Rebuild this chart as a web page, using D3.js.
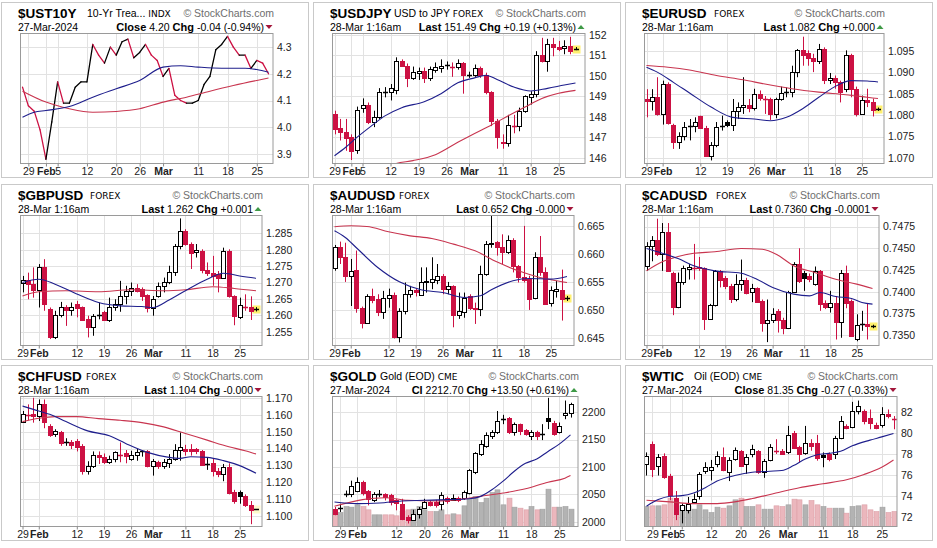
<!DOCTYPE html>
<html>
<head>
<meta charset="utf-8">
<script src="https://cdnjs.cloudflare.com/ajax/libs/d3/7.8.5/d3.min.js"></script>
<style>
  body { margin: 0; background: #fff; }
  svg { display: block; font-family: "Liberation Sans", Arial, sans-serif; }
</style>
</head>
<body>
<svg id="chart" width="937" height="548"></svg>
<script>
// ---- dates / ticks ----
const forexDates = ["Jan 29","Jan 30","Jan 31","Feb 1","Feb 2","Feb 5","Feb 6","Feb 7","Feb 8","Feb 9","Feb 12","Feb 13","Feb 14","Feb 15","Feb 16","Feb 19","Feb 20","Feb 21","Feb 22","Feb 23","Feb 26","Feb 27","Feb 28","Feb 29","Mar 1","Mar 4","Mar 5","Mar 6","Mar 7","Mar 8","Mar 11","Mar 12","Mar 13","Mar 14","Mar 15","Mar 18","Mar 19","Mar 20","Mar 21","Mar 22","Mar 25","Mar 26","Mar 27","Mar 28"];
const eodDates = ["Jan 26","Jan 29","Jan 30","Jan 31","Feb 1","Feb 2","Feb 5","Feb 6","Feb 7","Feb 8","Feb 9","Feb 12","Feb 13","Feb 14","Feb 15","Feb 16","Feb 20","Feb 21","Feb 22","Feb 23","Feb 26","Feb 27","Feb 28","Feb 29","Mar 1","Mar 4","Mar 5","Mar 6","Mar 7","Mar 8","Mar 11","Mar 12","Mar 13","Mar 14","Mar 15","Mar 18","Mar 19","Mar 20","Mar 21","Mar 22","Mar 25","Mar 26","Mar 27"];

const forexTicks = [["Jan 29","29"],["Feb 1","Feb"],["Feb 12","12"],["Feb 19","19"],["Feb 26","26"],["Mar 1","Mar"],["Mar 11","11"],["Mar 18","18"],["Mar 25","25"]];
const jpyTicks = [["Jan 29","29"],["Feb 1","Feb"],["Feb 5","5"],["Feb 12","12"],["Feb 19","19"],["Feb 26","26"],["Mar 1","Mar"],["Mar 11","11"],["Mar 18","18"],["Mar 25","25"]];
const eodTicks = [["Jan 29","29"],["Feb 1","Feb"],["Feb 5","5"],["Feb 12","12"],["Feb 20","20"],["Feb 26","26"],["Mar 1","Mar"],["Mar 11","11"],["Mar 18","18"],["Mar 25","25"]];
const goldTicks = [["Jan 29","29"],["Feb 1","Feb"],["Feb 12","12"],["Feb 20","20"],["Feb 26","26"],["Mar 1","Mar"],["Mar 11","11"],["Mar 18","18"],["Mar 25","25"]];

// ---- price data: [open, high, low, close] ----
const ust10yClose = [4.15,4.08,4.06,3.99,3.88,4.02,4.17,4.09,4.09,4.15,4.17,4.17,4.31,4.27,4.24,4.30,4.27,4.32,4.33,4.26,4.28,4.31,4.27,4.25,4.19,4.22,4.12,4.10,4.09,4.09,4.10,4.16,4.19,4.29,4.31,4.34,4.30,4.27,4.27,4.22,4.25,4.24,4.20];

const usdjpy = [
 [148.15,148.3,147.15,147.4],[147.45,147.9,146.85,147.25],[147.25,147.9,146.35,146.95],[147.0,147.15,145.9,146.35],
 [146.4,148.5,146.2,148.35],[148.45,148.9,148.2,148.6],[148.6,148.7,147.65,147.75],[147.75,148.3,147.5,148.0],
 [148.0,149.4,147.9,149.2],[149.25,149.45,148.95,149.2],[149.2,149.6,148.8,149.4],[149.3,150.9,149.1,150.7],
 [150.7,150.8,150.45,150.5],[150.5,150.6,149.45,149.9],[149.9,150.45,149.8,150.2],[150.15,150.4,149.8,150.25],
 [150.25,150.4,149.65,149.9],[149.9,150.45,149.75,150.35],[150.3,150.65,150.15,150.42],[150.4,150.8,150.15,150.5],
 [150.5,150.7,150.3,150.52],[150.52,150.65,149.95,150.45],[150.45,150.8,150.3,150.6],[150.6,150.67,149.13,150.03],
 [150.03,150.2,149.9,150.05],[150.05,150.55,149.95,150.4],[150.4,150.45,149.9,150.03],[150.03,150.15,149.1,149.2],
 [149.2,149.25,147.55,147.8],[147.8,147.9,146.45,147.0],[146.8,147.15,146.45,146.72],[146.75,148.1,146.55,147.6],
 [147.6,148.1,147.2,147.55],[147.55,148.45,147.3,148.3],[148.3,149.05,148.2,149.0],[148.95,149.25,148.6,149.1],
 [149.1,151.2,148.95,151.0],[151.0,151.85,150.65,150.7],[150.7,151.8,150.2,151.55],[151.55,151.85,150.95,151.4],
 [151.4,151.7,151.2,151.3],[151.33,151.73,151.05,151.45],[151.45,151.9,151.05,151.22],[151.3,151.4,151.25,151.32]
];

const eurusd = [
 [1.0839,1.0861,1.0795,1.0834],[1.0834,1.0861,1.0811,1.0843],[1.0843,1.0889,1.0799,1.0803],[1.0803,1.0881,1.0778,1.0873],
 [1.0873,1.0877,1.0778,1.0781],[1.0778,1.0780,1.0721,1.0737],[1.0737,1.0760,1.0721,1.0752],[1.0752,1.0784,1.0741,1.0773],
 [1.0773,1.0791,1.0741,1.0775],[1.0775,1.0795,1.0760,1.0784],[1.0797,1.0799,1.0768,1.0770],[1.0770,1.0775,1.0703,1.0705],
 [1.0705,1.0737,1.0694,1.0731],[1.0731,1.0784,1.0725,1.0772],[1.0772,1.0799,1.0764,1.0775],[1.0784,1.0788,1.0772,1.0776],
 [1.0776,1.0838,1.0763,1.0809],[1.0809,1.0830,1.0791,1.0820],[1.0820,1.0889,1.0803,1.0825],[1.0825,1.0838,1.0807,1.0817],
 [1.0817,1.0862,1.0811,1.0850],[1.0850,1.0858,1.0834,1.0841],[1.0841,1.0845,1.0803,1.0838],[1.0838,1.0841,1.0789,1.0802],
 [1.0802,1.0841,1.0793,1.0838],[1.0838,1.0867,1.0834,1.0852],[1.0852,1.0865,1.0842,1.0855],[1.0855,1.0916,1.0842,1.0901],
 [1.0901,1.0955,1.0889,1.0952],[1.0952,1.0984,1.0916,1.0940],[1.0945,1.0952,1.0916,1.0934],[1.0934,1.0944,1.0901,1.0927],
 [1.0927,1.0967,1.0920,1.0955],[1.0955,1.0959,1.0873,1.0883],[1.0883,1.0899,1.0873,1.0887],[1.0887,1.0893,1.0862,1.0877],
 [1.0877,1.0881,1.0830,1.0854],[1.0862,1.0952,1.0854,1.0940],[1.0940,1.0944,1.0842,1.0862],[1.0862,1.0867,1.0797,1.0803],
 [1.0803,1.0846,1.0801,1.0836],[1.0836,1.0862,1.0819,1.0830],[1.0830,1.0839,1.0797,1.0812],[1.0812,1.0818,1.0810,1.0815]
];

const gbpusd = [
 [1.2700,1.2720,1.2670,1.2708],[1.2708,1.2730,1.2649,1.2695],[1.2695,1.2746,1.2654,1.2678],[1.2678,1.2756,1.2624,1.2746],
 [1.2746,1.2771,1.2614,1.2634],[1.2619,1.2624,1.2528,1.2533],[1.2533,1.2614,1.2528,1.2601],[1.2601,1.2641,1.2594,1.2624],
 [1.2624,1.2631,1.2568,1.2617],[1.2617,1.2639,1.2599,1.2627],[1.2634,1.2644,1.2594,1.2621],[1.2624,1.2627,1.2583,1.2586],
 [1.2588,1.2599,1.2533,1.2565],[1.2565,1.2604,1.2538,1.2599],[1.2597,1.2639,1.2588,1.2601],[1.2609,1.2614,1.2583,1.2586],
 [1.2586,1.2654,1.2580,1.2624],[1.2624,1.2649,1.2614,1.2634],[1.2634,1.2705,1.2611,1.2659],[1.2659,1.2690,1.2634,1.2675],
 [1.2675,1.2700,1.2659,1.2682],[1.2682,1.2695,1.2670,1.2675],[1.2680,1.2685,1.2644,1.2659],[1.2661,1.2664,1.2609,1.2621],
 [1.2621,1.2659,1.2599,1.2651],[1.2659,1.2700,1.2654,1.2688],[1.2688,1.2715,1.2670,1.2702],[1.2702,1.2751,1.2695,1.2732],
 [1.2732,1.2817,1.2720,1.2812],[1.2812,1.2895,1.2801,1.2857],[1.2857,1.2862,1.2812,1.2817],[1.2817,1.2822,1.2741,1.2791],
 [1.2793,1.2817,1.2776,1.2799],[1.2796,1.2801,1.2728,1.2739],[1.2739,1.2761,1.2720,1.2728],[1.2730,1.2781,1.2690,1.2720],
 [1.2725,1.2735,1.2670,1.2715],[1.2715,1.2806,1.2712,1.2796],[1.2796,1.2801,1.2654,1.2659],[1.2659,1.2661,1.2570,1.2599],
 [1.2594,1.2654,1.2589,1.2631],[1.2631,1.2664,1.2614,1.2627],[1.2627,1.2658,1.2586,1.2614],[1.2616,1.2625,1.2612,1.2620]
];

const audusd = [
 [0.6575,0.6617,0.6571,0.6613],[0.6613,0.6623,0.6583,0.6595],[0.6595,0.6621,0.6551,0.6561],[0.6562,0.6592,0.6508,0.6571],
 [0.6573,0.6607,0.6496,0.6505],[0.6504,0.6507,0.6468,0.6477],[0.6477,0.6529,0.6476,0.6526],[0.6526,0.6539,0.6513,0.6519],
 [0.6520,0.6529,0.6490,0.6498],[0.6498,0.6535,0.6485,0.6523],[0.6523,0.6539,0.6505,0.6527],[0.6527,0.6532,0.6450,0.6452],
 [0.6452,0.6504,0.6443,0.6499],[0.6499,0.6550,0.6493,0.6529],[0.6529,0.6544,0.6523,0.6537],[0.6537,0.6540,0.6525,0.6533],
 [0.6527,0.6577,0.6526,0.6550],[0.6550,0.6577,0.6532,0.6553],[0.6551,0.6595,0.6538,0.6556],[0.6555,0.6583,0.6547,0.6561],
 [0.6562,0.6565,0.6529,0.6538],[0.6538,0.6551,0.6529,0.6543],[0.6543,0.6545,0.6470,0.6492],[0.6492,0.6532,0.6485,0.6499],
 [0.6498,0.6532,0.6487,0.6523],[0.6526,0.6529,0.6501,0.6505],[0.6505,0.6514,0.6476,0.6502],[0.6502,0.6580,0.6490,0.6565],
 [0.6565,0.6624,0.6562,0.6618],[0.6618,0.6669,0.6612,0.6621],[0.6623,0.6624,0.6598,0.6613],[0.6614,0.6636,0.6583,0.6605],
 [0.6605,0.6634,0.6601,0.6626],[0.6626,0.6629,0.6568,0.6579],[0.6579,0.6581,0.6550,0.6559],[0.6559,0.6651,0.6550,0.6555],
 [0.6556,0.6562,0.6501,0.6521],[0.6523,0.6604,0.6520,0.6596],[0.6596,0.6633,0.6562,0.6569],[0.6568,0.6577,0.6510,0.6511],
 [0.6513,0.6543,0.6507,0.6537],[0.6535,0.6553,0.6523,0.6538],[0.6537,0.6573,0.6482,0.6521],[0.6521,0.6526,0.6517,0.6522]
];

const cadusd = [
 [0.7430,0.7457,0.7424,0.7453],[0.7453,0.7464,0.7435,0.7460],[0.7460,0.7484,0.7441,0.7443],[0.7443,0.7479,0.7424,0.7469],
 [0.7469,0.7479,0.7423,0.7424],[0.7422,0.7423,0.7373,0.7382],[0.7382,0.7422,0.7381,0.7411],[0.7411,0.7430,0.7408,0.7427],
 [0.7426,0.7432,0.7414,0.7428],[0.7428,0.7455,0.7414,0.7427],[0.7429,0.7440,0.7424,0.7427],[0.7427,0.7428,0.7356,0.7369],
 [0.7369,0.7386,0.7368,0.7385],[0.7385,0.7425,0.7383,0.7424],[0.7424,0.7425,0.7405,0.7414],[0.7416,0.7418,0.7403,0.7406],
 [0.7406,0.7409,0.7387,0.7392],[0.7392,0.7420,0.7389,0.7409],[0.7409,0.7437,0.7401,0.7414],[0.7414,0.7416,0.7397,0.7399],
 [0.7400,0.7409,0.7388,0.7404],[0.7404,0.7405,0.7387,0.7388],[0.7389,0.7391,0.7354,0.7364],[0.7364,0.7391,0.7342,0.7368],
 [0.7368,0.7381,0.7364,0.7374],[0.7378,0.7380,0.7353,0.7368],[0.7368,0.7370,0.7351,0.7358],[0.7358,0.7401,0.7357,0.7400],
 [0.7400,0.7434,0.7399,0.7432],[0.7432,0.7450,0.7410,0.7412],[0.7421,0.7424,0.7401,0.7416],[0.7418,0.7421,0.7411,0.7415],
 [0.7409,0.7429,0.7407,0.7424],[0.7424,0.7425,0.7378,0.7386],[0.7387,0.7390,0.7380,0.7382],[0.7382,0.7401,0.7376,0.7387],
 [0.7387,0.7395,0.7345,0.7365],[0.7365,0.7425,0.7347,0.7421],[0.7421,0.7430,0.7381,0.7387],[0.7389,0.7391,0.7348,0.7349],
 [0.7346,0.7374,0.7343,0.7362],[0.7362,0.7378,0.7355,0.7363],[0.7363,0.7386,0.7345,0.7360],[0.7360,0.7362,0.7358,0.7360]
];

const chfusd = [
 [1.1559,1.1622,1.1553,1.1606],[1.1606,1.1661,1.1567,1.1598],[1.1602,1.1700,1.1553,1.1592],[1.1592,1.1690,1.1563,1.1661],
 [1.1661,1.1690,1.1520,1.1559],[1.1534,1.1544,1.1469,1.1481],[1.1485,1.1514,1.1469,1.1501],[1.1495,1.1504,1.1416,1.1430],
 [1.1440,1.1461,1.1416,1.1436],[1.1440,1.1450,1.1397,1.1422],[1.1442,1.1456,1.1383,1.1411],[1.1416,1.1426,1.1246,1.1266],
 [1.1266,1.1325,1.1246,1.1299],[1.1299,1.1383,1.1285,1.1364],[1.1364,1.1383,1.1309,1.1352],[1.1352,1.1371,1.1309,1.1319],
 [1.1319,1.1358,1.1309,1.1338],[1.1338,1.1383,1.1319,1.1377],[1.1371,1.1436,1.1319,1.1364],[1.1371,1.1391,1.1313,1.1358],
 [1.1338,1.1387,1.1328,1.1364],[1.1364,1.1397,1.1328,1.1377],[1.1377,1.1391,1.1352,1.1383],[1.1383,1.1391,1.1289,1.1299],
 [1.1299,1.1338,1.1240,1.1325],[1.1319,1.1328,1.1280,1.1299],[1.1299,1.1338,1.1280,1.1319],[1.1313,1.1367,1.1285,1.1338],
 [1.1338,1.1426,1.1328,1.1391],[1.1391,1.1495,1.1328,1.1407],[1.1397,1.1422,1.1358,1.1387],[1.1397,1.1426,1.1358,1.1387],
 [1.1397,1.1403,1.1367,1.1383],[1.1383,1.1391,1.1299,1.1305],[1.1313,1.1344,1.1274,1.1307],[1.1313,1.1338,1.1235,1.1266],
 [1.1270,1.1285,1.1231,1.1250],[1.1250,1.1309,1.1207,1.1289],[1.1289,1.1313,1.1129,1.1137],[1.1143,1.1156,1.1074,1.1090],
 [1.1143,1.1152,1.1074,1.1117],[1.1117,1.1129,1.1055,1.1065],[1.1065,1.1090,1.0953,1.1039],[1.1039,1.1042,1.1037,1.1040]
];

const gold = [
 [2024,2027,2012,2015],[2025,2033,2018,2026],[2050,2057,2045,2050.5],[2050,2075,2045,2066],[2057,2081,2054,2072],
 [2072,2075,2048,2052],[2057,2058,2030,2042],[2040,2054,2036,2050],[2050,2058,2045,2050.5],[2050,2052,2039,2046],
 [2048,2051,2030,2036],[2039,2042,2021,2034],[2033,2042,2003,2006],[2008,2012,1997,2004],[2003,2022,2002,2014],
 [2014,2027,2006,2024],[2026,2042,2024,2036],[2036,2039,2028,2030],[2036,2040,2026,2030],[2032,2054,2021,2048],
 [2044,2046,2033,2038],[2040,2050,2038,2044],[2044,2046,2036,2039],[2044,2057,2040,2054],[2052,2096,2050,2095],
 [2090,2127,2087,2125],[2124,2149,2120,2142],[2139,2163,2135,2158],[2156,2167,2151,2163],[2163,2202,2160,2184],
 [2186,2195,2178,2187],[2189,2191,2160,2163],[2163,2181,2157,2178],[2178,2179,2158,2166],[2167,2169,2157,2160],
 [2157,2167,2149,2163],[2163,2166,2149,2157],[2160,2178,2149,2160.5],[2189,2226,2169,2183],[2181,2184,2157,2160],
 [2164,2181,2161,2175],[2195,2221,2187,2199],[2199,2217,2190,2214]
];
const goldVolume = [35,42,60,58,65,60,50,35,35,35,35,32,45,50,52,60,50,45,45,50,35,38,35,62,82,90,72,85,102,110,65,85,58,55,50,60,50,52,112,58,58,60,52];

const wtic = [
 [77.05,78.15,75.94,77.84],[78.94,79.19,75.79,76.57],[76.89,77.99,75.94,77.68],[77.84,78.06,75.63,75.79],[75.94,76.10,73.58,74.05],
 [73.83,74.46,71.68,72.25],[72.63,73.26,71.37,73.10],[72.69,73.89,72.32,73.26],[73.42,74.21,73.26,73.74],[73.96,76.26,73.64,76.10],
 [76.35,77.21,76.10,76.73],[76.48,77.43,75.47,76.80],[77.05,78.25,76.73,77.84],[77.68,78.62,76.35,76.48],[76.26,77.68,75.41,77.43],
 [77.52,78.62,77.36,78.37],[78.25,78.37,76.80,76.89],[77.05,77.99,76.10,77.74],[77.99,78.88,77.68,78.47],[78.25,78.37,76.10,76.26],
 [76.26,77.52,75.72,77.36],[77.43,78.94,77.30,78.69],[78.37,79.41,78.00,78.25],[78.25,78.47,77.93,77.99],[78.15,80.68,77.99,79.82],
 [80.04,80.20,78.47,78.56],[78.62,78.78,77.21,77.99],[78.06,80.68,77.93,79.00],[79.00,79.41,78.31,78.78],[79.00,79.82,77.36,77.61],
 [77.93,78.15,76.73,77.74],[77.99,78.15,77.30,77.52],[77.99,79.73,77.52,79.57],[79.57,81.62,79.41,81.15],[80.68,80.83,80.36,80.52],
 [80.58,82.98,80.46,82.09],[82.09,83.10,81.78,82.57],[82.09,82.25,80.83,81.15],[81.46,82.25,80.36,80.99],[80.77,80.99,80.36,80.52],
 [80.77,82.47,80.52,81.84],[81.84,82.25,81.40,81.62],[81.45,81.62,80.36,81.35]
];
const wticVolume = [60,62,62,65,85,65,62,60,52,65,50,42,58,55,62,80,85,60,60,65,52,52,62,60,65,82,80,65,78,65,60,55,55,55,40,60,62,65,50,45,58,42,45];

// ---- moving averages: [bar index, value] ----
const ustMaBlue = [[0,4.0375],[2,4.056],[4,4.0625],[8,4.0775],[12,4.1125],[16,4.144],[20,4.175],[24,4.225],[27,4.23],[30,4.225],[34,4.221],[38,4.221],[40,4.216],[42,4.206]];
const ustMaRed = [[0,4.135],[4,4.094],[8,4.069],[12,4.056],[16,4.059],[20,4.069],[24,4.094],[28,4.1125],[32,4.135],[36,4.156],[40,4.175],[42,4.184]];
const jpyMaBlue = [[0,146.11],[2,146.52],[4,147.0],[7,147.65],[9,148.05],[12,148.45],[16,148.74],[19,149.13],[22,149.66],[25,149.9],[27,150.03],[29,149.82],[32,149.45],[35,149.26],[38,149.39],[41,149.55],[43,149.65]];
const jpyMaRed = [[5,144.9],[11,145.73],[14,145.87],[18,146.16],[22,146.76],[25,147.19],[28,147.61],[31,148.05],[34,148.48],[37,148.9],[40,149.15],[43,149.29]];
const eurMaBlue = [[0,1.09125],[2,1.0901],[5,1.0877],[8,1.0852],[12,1.0819],[16,1.0795],[20,1.0791],[23,1.0787],[26,1.0795],[29,1.0815],[32,1.0842],[35,1.0867],[38,1.0881],[41,1.0880],[43,1.0878]];
const eurMaRed = [[0,1.09164],[4,1.09125],[8,1.0906],[13,1.0893],[18,1.0883],[22,1.0873],[27,1.0862],[32,1.0854],[37,1.0848],[41,1.0842],[43,1.0839]];
const gbpMaBlue = [[0,1.2700],[3,1.2710],[6,1.2695],[10,1.2665],[14,1.2639],[18,1.2629],[22,1.2627],[24,1.2624],[27,1.2647],[30,1.2675],[34,1.2710],[37,1.2728],[40,1.2720],[43,1.2713]];
const gbpMaRed = [[0,1.2659],[3,1.2672],[8,1.2675],[14,1.2672],[20,1.2678],[26,1.2675],[30,1.2678],[35,1.2687],[39,1.2682],[43,1.2675]];
const audMaBlue = [[0,0.66423],[2,0.66304],[4,0.66125],[8,0.65768],[12,0.65512],[16,0.65369],[20,0.65321],[24,0.65232],[27,0.65262],[29,0.65369],[33,0.6553],[36,0.65571],[40,0.6556],[43,0.65607]];
const audMaRed = [[0,0.66494],[3,0.66512],[6,0.665],[10,0.66405],[14,0.66333],[18,0.66286],[22,0.66185],[26,0.66065],[30,0.65869],[34,0.65708],[38,0.65589],[41,0.6553],[43,0.655]];
const cadMaBlue = [[0,0.74497],[3,0.74443],[6,0.74382],[9,0.74298],[13,0.7424],[18,0.74213],[21,0.74144],[24,0.74048],[28,0.73972],[31,0.73952],[33,0.73991],[36,0.73945],[39,0.73922],[41,0.73876],[43,0.73857]];
const cadMaRed = [[0,0.7424],[3,0.74344],[6,0.74405],[9,0.74443],[13,0.74459],[18,0.74497],[22,0.74489],[25,0.7442],[28,0.74298],[32,0.74221],[36,0.74144],[40,0.74087],[43,0.74037]];
const chfMaBlue = [[0,1.16511],[2,1.16316],[5,1.16022],[8,1.15592],[12,1.15045],[16,1.14751],[19,1.14302],[23,1.13774],[27,1.1348],[29,1.13422],[31,1.13519],[34,1.1348],[37,1.13285],[40,1.12991],[43,1.12542]];
const chfMaRed = [[0,1.15592],[3,1.15788],[6,1.15885],[10,1.15885],[14,1.15768],[18,1.1567],[22,1.15533],[26,1.15279],[30,1.14888],[34,1.14497],[38,1.14106],[41,1.13871],[43,1.13676]];
const goldMaBlue = [[0,2036.1],[4,2033.1],[8,2034.3],[12,2038.0],[16,2039.2],[20,2040.4],[24,2042.2],[26,2046.4],[28,2058.4],[30,2074.1],[32,2092.2],[34,2106.6],[36,2114.5],[38,2128.3],[40,2141.6],[42,2158.4]];
const goldMaRed = [[0,2028.3],[5,2040.4],[9,2044.0],[13,2039.2],[18,2038.0],[22,2040.4],[26,2046.4],[30,2052.4],[34,2060.2],[38,2072.3],[41,2079.5],[42,2084.3]];
const wticMaBlue = [[0,73.01],[2,73.64],[4,73.96],[6,74.02],[8,74.27],[10,74.78],[12,75.41],[15,75.94],[18,76.26],[21,76.35],[23,76.42],[25,76.89],[27,77.52],[29,77.93],[31,78.06],[33,78.25],[35,78.78],[38,79.32],[40,79.63],[42,79.95]];
const wticMaRed = [[0,73.58],[4,73.42],[8,73.26],[12,73.26],[15,73.42],[18,73.74],[22,74.27],[26,74.78],[30,75.15],[34,75.53],[37,76.04],[40,76.73],[42,77.43]];

// ---- panel setup ----
const panels = [
  {sym:"$UST10Y", sub:"10-Yr Trea...", exch:"INDX", subX:87, date:"27-Mar-2024", lastLbl:"Close", last:"4.20", chg:"-0.04 (-0.94%)", up:false,
   dates:eodDates, ticks:eodTicks, line:ust10yClose, maB:ustMaBlue, maR:ustMaRed, right:273, lastX:268.5,
   yDomain:[3.864,4.351], yTicks:[3.9,4.0,4.1,4.2,4.3], fmt:".1f"},
  {sym:"$USDJPY", sub:"USD to JPY", exch:"FOREX", subX:82, date:"28-Mar 1:16am", lastLbl:"Last", last:"151.49", chg:"+0.19 (+0.13%)", up:true,
   dates:forexDates, ticks:jpyTicks, ohlc:usdjpy, maB:jpyMaBlue, maR:jpyMaRed, right:273, lastX:263.5, mark:1,
   yDomain:[145.73,152.06], yTicks:[146,147,148,149,150,151,152], fmt:"d"},
  {sym:"$EURUSD", sub:"", exch:"FOREX", subX:90, date:"28-Mar 1:16am", lastLbl:"Last", last:"1.082", chg:"+0.000", up:true,
   dates:forexDates, ticks:forexTicks, ohlc:eurusd, maB:eurMaBlue, maR:eurMaRed, right:260, lastX:254, mark:1,
   yDomain:[1.06868,1.09915], yTicks:[1.070,1.075,1.080,1.085,1.090,1.095], fmt:".3f"},
  {sym:"$GBPUSD", sub:"", exch:"FOREX", subX:90, date:"28-Mar 1:16am", lastLbl:"Last", last:"1.262", chg:"+0.001", up:true,
   dates:forexDates, ticks:forexTicks, ohlc:gbpusd, maB:gbpMaBlue, maR:gbpMaRed, right:262, lastX:256, mark:1,
   yDomain:[1.25084,1.29038], yTicks:[1.255,1.260,1.265,1.270,1.275,1.280,1.285], fmt:".3f"},
  {sym:"$AUDUSD", sub:"", exch:"FOREX", subX:87, date:"28-Mar 1:16am", lastLbl:"Last", last:"0.652", chg:"-0.000", up:false,
   dates:forexDates, ticks:forexTicks, ohlc:audusd, maB:audMaBlue, maR:audMaRed, right:262, lastX:255, mark:1,
   yDomain:[0.64375,0.66696], yTicks:[0.645,0.650,0.655,0.660,0.665], fmt:".3f"},
  {sym:"$CADUSD", sub:"", exch:"FOREX", subX:92, date:"28-Mar 1:16am", lastLbl:"Last", last:"0.7360", chg:"-0.0001", up:false,
   dates:forexDates, ticks:forexTicks, ohlc:cadusd, maB:cadMaBlue, maR:cadMaRed, right:255, lastX:248.5, mark:1,
   yDomain:[0.73381,0.74877], yTicks:[0.7350,0.7375,0.7400,0.7425,0.7450,0.7475], fmt:".4f"},
  {sym:"$CHFUSD", sub:"", exch:"FOREX", subX:86, date:"28-Mar 1:16am", lastLbl:"Last", last:"1.104", chg:"-0.000", up:false,
   dates:forexDates, ticks:forexTicks, ohlc:chfusd, maB:chfMaBlue, maR:chfMaRed, right:262, lastX:256, mark:0.35,
   yDomain:[1.09393,1.17076], yTicks:[1.100,1.110,1.120,1.130,1.140,1.150,1.160,1.170], fmt:".3f"},
  {sym:"$GOLD", sub:"Gold (EOD)", exch:"CME", subX:68, date:"27-Mar-2024", lastLbl:"Cl", last:"2212.70", chg:"+13.50 (+0.61%)", up:true,
   dates:eodDates, ticks:goldTicks, ohlc:gold, vol:goldVolume, maB:goldMaBlue, maR:goldMaRed, right:266, lastX:258.5,
   yDomain:[1991.5,2228.4], yTicks:[2000,2050,2100,2150,2200], fmt:"d"},
  {sym:"$WTIC", sub:"Oil (EOD)", exch:"CME", subX:70, date:"27-Mar-2024", lastLbl:"Close", last:"81.35", chg:"-0.27 (-0.33%)", up:false,
   dates:eodDates, ticks:eodTicks, ohlc:wtic, vol:wticVolume, maB:wticMaBlue, maR:wticMaRed, right:273, lastX:269.5,
   yDomain:[71.07,83.49], yTicks:[72,74,76,78,80,82], fmt:"d"}
];

const RED = "#cc1143", BLUE_MA = "#1e1e8c", RED_MA = "#c8354f";
const rowY = [0, 182, 363];
const svg = d3.select("#chart");

panels.forEach((p, k) => {
  const g = svg.append("g").attr("transform", `translate(${(k % 3) * 312},${rowY[Math.floor(k / 3)]})`);
  const L = 20, T = 33.5, B = 163.5, R = p.right;

  g.append("rect").attr("x", 1.5).attr("y", 2.5).attr("width", 307).attr("height", 175)
    .attr("fill", "#fff").attr("stroke", "#c9c9c9");

  const x = d3.scalePoint().domain(p.dates).range([22.5, p.lastX]);
  const y = d3.scaleLinear().domain(p.yDomain).range([B, T]);
  const step = x.step();
  const xi = i => x(p.dates[i]);

  // header
  g.append("text").attr("x", 18).attr("y", 17.5).attr("font-size", 13.5).attr("font-weight", "bold").text(p.sym);
  const sub = g.append("text").attr("x", p.subX).attr("y", 17).attr("font-size", 10.5);
  if (p.sub) sub.append("tspan").text(p.sub + " ");
  sub.append("tspan").attr("font-family", "DejaVu Sans").attr("font-size", 9).text(p.exch);
  g.append("text").attr("x", R + 1).attr("y", 17).attr("text-anchor", "end")
    .attr("font-size", 10.5).attr("fill", "#6e6e6e").text("\u00A9 StockCharts.com");

  g.append("text").attr("x", 18).attr("y", 30.5).attr("font-size", 10.5).text(p.date);
  const info = g.append("text").attr("x", R - 9).attr("y", 30.5).attr("text-anchor", "end").attr("font-size", 10.5);
  info.append("tspan").attr("font-weight", "bold").attr("font-size", 11).text(p.lastLbl);
  info.append("tspan").text(" " + p.last + "  ");
  info.append("tspan").attr("font-weight", "bold").attr("font-size", 11).text("Chg");
  info.append("tspan").text(" " + p.chg);
  const tx = R - 4, ty = 27;
  g.append("path")
    .attr("d", p.up ? `M${tx - 3.5},${ty + 2}L${tx + 3.5},${ty + 2}L${tx},${ty - 2}Z` : `M${tx - 3.5},${ty - 2}L${tx + 3.5},${ty - 2}L${tx},${ty + 2}Z`)
    .attr("fill", p.up ? "#3f9a47" : "#a3163b");

  // plot area + grid
  g.append("rect").attr("x", L).attr("y", T).attr("width", R - L).attr("height", B - T).attr("fill", "#fff");
  g.append("g").selectAll("line").data(p.yTicks).join("line")
    .attr("x1", L).attr("x2", R).attr("y1", d => Math.round(y(d)) + 0.5).attr("y2", d => Math.round(y(d)) + 0.5)
    .attr("stroke", "#e2e2e2");
  g.append("g").selectAll("line").data(p.ticks).join("line")
    .attr("x1", d => Math.round(x(d[0])) + 0.5).attr("x2", d => Math.round(x(d[0])) + 0.5)
    .attr("y1", T).attr("y2", B).attr("stroke", "#e2e2e2");

  g.append("clipPath").attr("id", "clip" + k).append("rect")
    .attr("x", L).attr("y", T).attr("width", R - L).attr("height", B - T);
  const m = g.append("g").attr("clip-path", `url(#clip${k})`);

  // volume
  if (p.vol) {
    const yv = d3.scaleLinear().domain([0, 390]).range([B, T]);
    const vw = Math.round(step) - 1;
    const down = i => p.ohlc[i][3] < (i ? p.ohlc[i - 1][3] : p.ohlc[i][0]);
    m.append("g").selectAll("rect").data(p.vol).join("rect")
      .attr("x", (d, i) => Math.round(xi(i)) - Math.floor(vw / 2))
      .attr("width", vw)
      .attr("y", d => yv(d)).attr("height", d => B - yv(d))
      .attr("fill", (d, i) => down(i) ? "#ebb7bd" : "#b3b3b3")
      .attr("stroke", (d, i) => down(i) ? "#dca0a8" : "#a0a0a0")
      .attr("stroke-width", 0.6);
  }

  // close line (UST10Y)
  if (p.line) {
    const segs = d3.pairs(p.line.map((v, i) => [xi(i), y(v), v]));
    m.append("g").selectAll("line").data(segs).join("line")
      .attr("x1", d => d[0][0]).attr("y1", d => d[0][1])
      .attr("x2", d => d[1][0]).attr("y2", d => d[1][1])
      .attr("stroke", d => d[1][2] < d[0][2] ? RED : "#000")
      .attr("stroke-width", 1.3).attr("stroke-linecap", "round");
  }

  // candles
  if (p.ohlc) {
    const bw = Math.max(3, Math.round(step * 0.72));
    const half = Math.floor(bw / 2);
    const last = p.ohlc.length - 1;
    if (p.mark) {
      m.append("rect").attr("x", Math.round(xi(last)) - 3.5).attr("y", Math.round(y(p.ohlc[last][3])) - 3.5)
        .attr("width", 8).attr("height", 8).attr("fill", "#fff06e").attr("opacity", p.mark);
    }
    const cg = m.append("g");
    p.ohlc.forEach((d, i) => {
      const [o, h, l, c] = d;
      const prev = i ? p.ohlc[i - 1][3] : o;
      const xc = Math.round(xi(i)) + 0.5;
      const filled = c < o;
      const doji = Math.abs(y(o) - y(c)) < 1.5;
      const col = doji ? (c < prev ? RED : "#000") : (filled ? (c > prev ? "#000" : RED) : "#000");
      cg.append("line").attr("x1", xc).attr("x2", xc).attr("y1", y(h)).attr("y2", y(l)).attr("stroke", col);
      if (doji) {
        const yy = Math.round(y(c)) + 0.5;
        cg.append("line").attr("x1", xc - half - 0.5).attr("x2", xc + half + 0.5).attr("y1", yy).attr("y2", yy)
          .attr("stroke", col).attr("stroke-width", 1.4);
      } else {
        const yt = Math.round(y(Math.max(o, c))) + 0.5, yb = Math.round(y(Math.min(o, c))) + 0.5;
        cg.append("rect").attr("x", xc - half).attr("width", half * 2)
          .attr("y", yt).attr("height", Math.max(1, yb - yt))
          .attr("fill", filled ? col : "#fff").attr("stroke", col);
      }
    });
  }

  // moving averages
  const ma = d3.line().x(d => xi(d[0])).y(d => y(d[1])).curve(d3.curveMonotoneX);
  m.append("path").attr("d", ma(p.maR)).attr("fill", "none").attr("stroke", RED_MA).attr("stroke-width", 1.1);
  m.append("path").attr("d", ma(p.maB)).attr("fill", "none").attr("stroke", BLUE_MA).attr("stroke-width", 1.1);

  // frame
  g.append("rect").attr("x", L + 0.5).attr("y", T).attr("width", R - L - 0.5).attr("height", B - T)
    .attr("fill", "none").attr("stroke", "#9a9a9a");

  // y axis (right)
  const ya = g.append("g").attr("transform", `translate(${R},0)`)
    .call(d3.axisRight(y).tickValues(p.yTicks).tickFormat(d3.format(p.fmt)).tickSize(0).tickPadding(4));
  ya.select(".domain").remove();
  ya.selectAll("text").attr("font-size", 10.5).attr("font-family", "Liberation Sans, Arial, sans-serif").attr("fill", "#222");

  // x axis (bottom)
  const lbl = new Map(p.ticks);
  const xa = g.append("g").attr("transform", `translate(0,${B})`)
    .call(d3.axisBottom(x).tickValues(p.ticks.map(d => d[0])).tickFormat(d => lbl.get(d)).tickSize(3).tickPadding(1));
  xa.select(".domain").remove();
  xa.selectAll("line").attr("stroke", "#888");
  xa.selectAll("text").attr("font-size", 10.5).attr("font-family", "Liberation Sans, Arial, sans-serif").attr("fill", "#222")
    .attr("font-weight", d => /^\d/.test(lbl.get(d)) ? "normal" : "bold");
});
</script>
</body>
</html>
